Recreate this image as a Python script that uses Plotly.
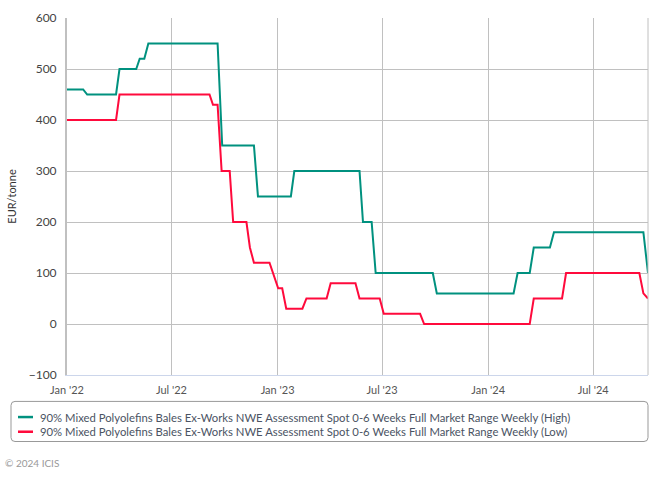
import plotly.graph_objects as go

# High series (EUR/tonne)
high_dates = ["2022-01-01", "2022-01-29", "2022-02-05", "2022-03-27", "2022-04-02",
              "2022-05-01", "2022-05-07", "2022-05-15", "2022-05-22", "2022-09-19",
              "2022-09-27", "2022-11-21", "2022-11-28", "2023-01-24", "2023-01-30",
              "2023-05-23", "2023-05-29", "2023-06-13", "2023-06-20", "2023-09-27",
              "2023-10-04", "2024-02-14", "2024-02-21", "2024-03-13", "2024-03-20",
              "2024-04-17", "2024-04-24", "2024-09-26", "2024-10-04"]
high_values = [460, 460, 450, 450, 500,
               500, 520, 520, 550, 550,
               350, 350, 250, 250, 300,
               300, 200, 200, 100, 100,
               60, 60, 100, 100, 150,
               150, 180, 180, 100]

# Low series (EUR/tonne)
low_dates = ["2022-01-01", "2022-03-27", "2022-04-02", "2022-09-05", "2022-09-11",
             "2022-09-19", "2022-09-26", "2022-10-10", "2022-10-16", "2022-11-08",
             "2022-11-14", "2022-11-21", "2022-12-18", "2023-01-02", "2023-01-09",
             "2023-01-16", "2023-02-13", "2023-02-20", "2023-03-27", "2023-04-03",
             "2023-05-16", "2023-05-23", "2023-06-27", "2023-07-04", "2023-09-05",
             "2023-09-12", "2024-03-13", "2024-03-20", "2024-05-08", "2024-05-15",
             "2024-09-19", "2024-09-26", "2024-10-04"]
low_values = [400, 400, 450, 450, 430,
              430, 300, 300, 200, 200,
              150, 120, 120, 70, 70,
              30, 30, 50, 50, 80,
              80, 50, 50, 20, 20,
              0, 0, 50, 50, 100,
              100, 60, 50]

series_names = [
    "90% Mixed Polyolefins Bales Ex-Works NWE Assessment Spot 0-6 Weeks Full Market Range Weekly (High)",
    "90% Mixed Polyolefins Bales Ex-Works NWE Assessment Spot 0-6 Weeks Full Market Range Weekly (Low)",
]
series_colors = ["#00917f", "#ff0a3c"]
tick_dates = ["2022-01-01", "2022-07-01", "2023-01-01", "2023-07-01", "2024-01-01", "2024-07-01"]
tick_labels = ["Jan '22", "Jul '22", "Jan '23", "Jul '23", "Jan '24", "Jul '24"]
y_ticks = [-100, 0, 100, 200, 300, 400, 500, 600]

FONT = "Lato, 'Open Sans', sans-serif"

# plot-area geometry in pixels (for placing the legend box below it)
W, H = 668, 478
ML, MR, MT, MB = 67, 20, 10, 103
PW, PH = W - ML - MR, H - MT - MB


def px(x):
    return (x - ML) / PW


def py(y):
    return (H - MB - y) / PH


fig = go.Figure()
for dates, vals, name, col in [(high_dates, high_values, series_names[0], series_colors[0]),
                               (low_dates, low_values, series_names[1], series_colors[1])]:
    fig.add_trace(go.Scatter(x=dates, y=vals, mode="lines", name=name,
                             line=dict(color=col, width=2), showlegend=False))

fig.update_layout(
    width=W, height=H,
    margin=dict(l=ML, r=MR, t=MT, b=MB),
    paper_bgcolor="white", plot_bgcolor="white",
    font=dict(family=FONT, size=11, color="#333333"),
    xaxis=dict(
        type="date",
        range=["2022-01-01", "2024-10-04"],
        tickvals=tick_dates, ticktext=tick_labels,
        showgrid=True, gridcolor="#c0c0c0", gridwidth=1,
        showline=True, linecolor="#ccd6eb", linewidth=1,
        ticks="", tickfont=dict(size=11, color="#555555"),
        ticklabelstandoff=5,
        zeroline=False,
    ),
    yaxis=dict(
        range=[-100, 600],
        tickvals=y_ticks,
        showgrid=True, gridcolor="#c0c0c0", gridwidth=1,
        showline=True, linecolor="#c0c0c0", linewidth=2,
        ticks="", tickfont=dict(size=12, color="#444444"),
        ticklabelstandoff=6,
        zeroline=False,
        title=dict(text="EUR/tonne", font=dict(size=11, color="#333333"), standoff=10),
    ),
    showlegend=False,
)

# right border line of plot area
fig.add_shape(type="line", xref="paper", yref="paper", x0=1, x1=1, y0=0, y1=1,
              line=dict(color="#c0c0c0", width=1))

# legend box (rounded rectangle)
bx0, bx1, by0, by1, r = 11, 648, 402, 443, 4
path = (f"M {px(bx0 + r)},{py(by0)} L {px(bx1 - r)},{py(by0)} "
        f"Q {px(bx1)},{py(by0)} {px(bx1)},{py(by0 + r)} "
        f"L {px(bx1)},{py(by1 - r)} Q {px(bx1)},{py(by1)} {px(bx1 - r)},{py(by1)} "
        f"L {px(bx0 + r)},{py(by1)} Q {px(bx0)},{py(by1)} {px(bx0)},{py(by1 - r)} "
        f"L {px(bx0)},{py(by0 + r)} Q {px(bx0)},{py(by0)} {px(bx0 + r)},{py(by0)} Z")
fig.add_shape(type="path", xref="paper", yref="paper", path=path,
              line=dict(color="#999999", width=1), fillcolor="rgba(0,0,0,0)")

# legend entries
for i, (name, col) in enumerate(zip(series_names, series_colors)):
    yy = 418 + 15 * i
    fig.add_shape(type="line", xref="paper", yref="paper",
                  x0=px(18), x1=px(33), y0=py(yy), y1=py(yy),
                  line=dict(color=col, width=2.5))
    fig.add_annotation(text=name, xref="paper", yref="paper",
                       x=px(38), y=py(yy), xanchor="left", yanchor="middle",
                       showarrow=False, font=dict(size=11.3, color="#4a5363"))

fig.add_annotation(text="© 2024 ICIS", xref="paper", yref="paper",
                   x=px(3), y=py(465), xanchor="left", yanchor="middle",
                   showarrow=False, font=dict(size=10, color="#999999"))

fig.write_html("out.html")
